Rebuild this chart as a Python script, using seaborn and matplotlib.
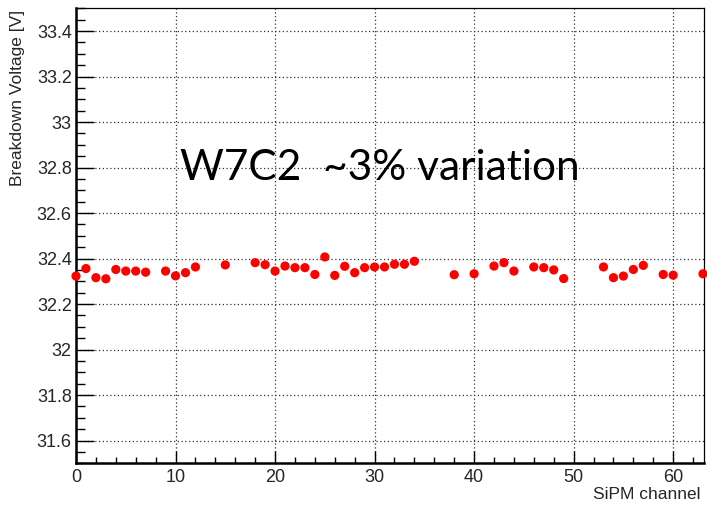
import matplotlib
matplotlib.use("Agg")
import matplotlib.pyplot as plt
from matplotlib.ticker import FixedLocator, MultipleLocator, FormatStrFormatter
import seaborn as sns
import pandas as pd

# Breakdown voltage per SiPM channel (wafer W7C2)
channels = [0, 1, 2, 3, 4, 5, 6, 7, 9, 10, 11, 12, 15, 18, 19, 20, 21, 22, 23,
            24, 25, 26, 27, 28, 29, 30, 31, 32, 33, 34, 38, 40, 42, 43, 44, 46,
            47, 48, 49, 53, 54, 55, 56, 57, 59, 60, 63]
voltages = [32.323, 32.356, 32.316, 32.311, 32.352, 32.345, 32.345, 32.340,
            32.345, 32.324, 32.338, 32.363, 32.372, 32.382, 32.373, 32.345,
            32.367, 32.360, 32.360, 32.330, 32.407, 32.326, 32.366, 32.338,
            32.360, 32.363, 32.363, 32.375, 32.375, 32.388, 32.329, 32.333,
            32.367, 32.382, 32.345, 32.363, 32.360, 32.350, 32.312, 32.363,
            32.316, 32.323, 32.352, 32.370, 32.330, 32.327, 32.333]

x_ticks = [0, 10, 20, 30, 40, 50, 60]
y_ticks = [31.6, 31.8, 32.0, 32.2, 32.4, 32.6, 32.8, 33.0, 33.2, 33.4]

annotation = "W7C2  ~3% variation"

df = pd.DataFrame({"channel": channels, "voltage": voltages})

sns.set_theme(style="white")
plt.rcParams["font.family"] = ["Liberation Sans", "DejaVu Sans"]

fig = plt.figure(figsize=(7.07, 5.05), dpi=100)
ax = fig.add_axes([76 / 707, 1 - 463.3 / 505, 628 / 707, 455 / 505])

sns.scatterplot(data=df, x="channel", y="voltage", ax=ax, color="#ff0000",
                s=44, edgecolor="none", linewidth=0, zorder=5, clip_on=False)

ax.set_xlim(0, 63.1)
ax.set_ylim(31.5, 33.5)

ax.xaxis.set_major_locator(FixedLocator(x_ticks))
ax.xaxis.set_minor_locator(MultipleLocator(2))
ax.yaxis.set_major_locator(FixedLocator(y_ticks))
ax.yaxis.set_minor_locator(MultipleLocator(0.05))
ax.yaxis.set_major_formatter(FormatStrFormatter("%g"))
ax.xaxis.set_major_formatter(FormatStrFormatter("%g"))

ax.tick_params(axis="x", which="major", direction="in", length=9, width=1.0,
               color="black", pad=4, labelsize=13, bottom=True, top=False)
ax.tick_params(axis="x", which="minor", direction="in", length=4.5, width=1.0,
               color="black", bottom=True, top=False)
ax.tick_params(axis="y", which="major", direction="in", length=13, width=1.0,
               color="black", pad=3, labelsize=13, left=True, right=False)
ax.tick_params(axis="y", which="minor", direction="in", length=6.5, width=1.0,
               color="black", left=True, right=False)

ax.grid(True, which="major", color="#333333", linestyle=(0, (1, 2)),
        linewidth=0.9)
ax.set_axisbelow(True)

for side in ("left", "bottom"):
    ax.spines[side].set_linewidth(1.8)
    ax.spines[side].set_color("black")
for side in ("top", "right"):
    ax.spines[side].set_linewidth(0.9)
    ax.spines[side].set_color("black")
    ax.spines[side].set_visible(True)

ax.set_xlabel("SiPM channel", fontsize=12.5, loc="right")
ax.set_ylabel("Breakdown Voltage [V]", fontsize=12.5, loc="top")
ax.xaxis.set_label_coords(0.994, -0.052)
ax.yaxis.set_label_coords(-0.081, 0.996)

ax.text(10.45, 32.746, annotation, fontsize=30.5, family=["Lato", "DejaVu Sans"],
        color="black", ha="left", va="baseline", zorder=6)

fig.savefig("out.png", dpi=100, facecolor="white")
